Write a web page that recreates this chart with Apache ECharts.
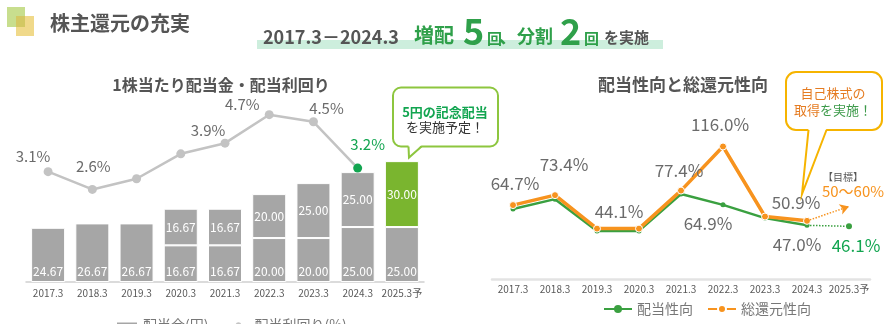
<!DOCTYPE html>
<html><head><meta charset="utf-8">
<script src="https://cdn.jsdelivr.net/npm/echarts@6/dist/echarts.min.js"></script>
<style>html,body{margin:0;padding:0;background:#fff}#c{width:890px;height:324px}</style>
</head><body><div id="c"></div>
<script>
// ---- data ----
const years = ['2017.3','2018.3','2019.3','2020.3','2021.3','2022.3','2023.3','2024.3','2025.3予'];
const divLower = [24.67,26.67,26.67,16.67,16.67,20.00,20.00,25.00,25.00];
const divUpper = [null,null,null,16.67,16.67,20.00,25.00,25.00,30.00];
const yieldPct = [3.1,2.6,2.9,3.6,3.9,4.7,4.5,3.2,null];
const yieldLabeled = [true,true,false,false,true,true,true,true,false];
const payoutRatio = [61.2,69.9,42.1,42.1,74.4,64.9,53.3,47.0,null];
const payoutForecast = [null,null,null,null,null,null,null,47.0,46.1];
const totalReturn = [64.7,73.4,44.1,44.1,77.4,116.0,54.7,50.9,null];
const totalTargetArrowEnd = 63.5;

// ---- styling ----
const FONT = '"Noto Sans CJK JP","Noto Sans",sans-serif';
const TXT = '#595959';
const ORANGE = '#f7931e';
const GREEN = '#3aa040';
const BRIGHT_GREEN = '#12a550';
const BAR_GRAY = '#a6a6a6';
const BAR_GREEN = '#7ab52f';

const yieldLabelOffsets = [[-15,2],[1,-6],null,null,[-17,4],[-27,7],[13,3],[10,-7],null];
const totalLabelOffsets = [[2,-4],[9,-13],[22,0],null,[-2,-3],[-3,-4],null,[-11,-1],null];
const payoutLabelOffsets = [null,null,null,null,null,[-15,3],null,[-10,3],null];

const pct = v => v.toFixed(1) + '%';

const yieldData = yieldPct.map((v,i) => {
  if (v == null) return null;
  const isLast = i === 7;
  const d = {value: v};
  if (isLast) d.itemStyle = {color: BRIGHT_GREEN};
  d.label = yieldLabeled[i] ? {show:true, position:'top', offset: yieldLabelOffsets[i],
    color: isLast ? BRIGHT_GREEN : '#6b6b6b', fontSize: 15, formatter: p => pct(p.value)} : {show:false};
  return d;
});
const totalData = totalReturn.map((v,i) => {
  if (v == null) return null;
  const off = totalLabelOffsets[i];
  return {value: v, label: off ? {show:true, position:'top', offset: off} : {show:false}};
});
const payoutData = payoutRatio.map((v,i) => {
  if (v == null) return null;
  const off = payoutLabelOffsets[i];
  return {value: v, label: off ? {show:true, position:'bottom', offset: off} : {show:false}};
});
const forecastData = payoutForecast.map((v,i) => {
  if (v == null) return null;
  if (i === 8) return {value: v, symbol:'circle', symbolSize:6,
    label:{show:true, position:'bottom', offset:[7,3], color: BRIGHT_GREEN, formatter: p => pct(p.value)}};
  return {value: v, symbol:'none'};
});
const upperData = divUpper.map((v,i) => v == null ? null : (i === 8 ? {value:v, itemStyle:{color:BAR_GREEN}} : v));

const chart = echarts.init(document.getElementById('c'), null, {renderer:'canvas'});

function callout(x, y, w, h, r, base1, tip, base2, color) {
  return [
    {type:'rect', shape:{x, y, width:w, height:h, r}, style:{fill:'#fff', stroke:color, lineWidth:2}, z:10},
    {type:'polygon', shape:{points:[[base1[0],base1[1]-1.5],tip,[base2[0],base2[1]-1.5]]}, style:{fill:'#fff'}, z:11},
    {type:'polyline', shape:{points:[base1, tip, base2]}, style:{stroke:color, lineWidth:2, fill:null}, z:12}
  ];
}
function txt(x, y, text, size, color, weight, align) {
  return {type:'text', x, y, z:20, style:{text, fontSize:size, fontFamily:FONT, fontWeight:weight||'normal',
    fill:color, textAlign:align||'left', align:align||'left', textVerticalAlign:'middle', verticalAlign:'middle'}};
}

const graphics = [
  {type:'rect', shape:{x:7,y:7,width:18,height:20}, style:{fill:'#c8de8e'}, z:1},
  {type:'rect', shape:{x:16,y:16,width:18,height:20}, style:{fill:'#f0d98a'}, z:1},
  {type:'rect', shape:{x:16,y:16,width:9,height:11}, style:{fill:'#d3c862'}, z:2},
  txt(50, 23, '株主還元の充実', 20, '#555', 'bold'),
  {type:'rect', shape:{x:257,y:40,width:406,height:9}, style:{fill:'#cdeedd'}, z:1},
  txt(263, 37, '2017.3－2024.3', 18, '#555', 'bold'),
  txt(414, 35, '増配', 20, '#2fa04a', 'bold'),
  txt(463, 31, '5', 36, '#2fa04a', 'bold'),
  txt(487, 38, '回', 15, '#2fa04a', 'bold'),
  txt(499, 36, '、分割', 18, '#2fa04a', 'bold'),
  txt(560, 31, '2', 36, '#2fa04a', 'bold'),
  txt(584, 38, '回', 15, '#2fa04a', 'bold'),
  txt(604, 37, 'を実施', 15, '#555', 'bold'),
  txt(221, 85, '1株当たり配当金・配当利回り', 16, '#555', 'bold', 'center'),
  txt(683, 85, '配当性向と総還元性向', 17, '#555', 'bold', 'center'),
  ...callout(393, 87.5, 105, 59, 8, [408.5,146.5], [409,157.5], [421.5,146.5], '#8dc63f'),
  txt(445, 112, '5円の記念配当', 13, BRIGHT_GREEN, 'bold', 'center'),
  txt(445, 127, 'を実施予定！', 13, '#333', 'normal', 'center'),
  ...callout(786, 72, 96, 58, 10, [808.5,130], [802,194], [826.5,130], '#f6b400'),
  txt(833, 93, '自己株式の', 13, '#e57c22', 'normal', 'center'),
  txt(794, 110, '取得', 13, '#e57c22', 'normal', 'left'),
  txt(820, 110, 'を実施！', 13, '#3d9a4a', 'normal', 'left'),
  txt(843, 177, '【目標】', 10, '#555', 'normal', 'center'),
  txt(853, 191, '50～60%', 15, ORANGE, 'normal', 'center')
];

const option = {
  animation:false,
  textStyle:{fontFamily:FONT},
  grid:[
    {left:26, right:466, top:104, bottom:42},
    {left:492, right:20, top:130.5, bottom:45}
  ],
  legend:[
    {left:110, top:313, itemGap:18, itemWidth:22, itemHeight:7, textStyle:{color:'#777', fontSize:14},
      data:[{name:'配当金(円)', icon:'rect'}, {name:'配当利回り(%)'}]},
    {left:598, top:297, itemGap:14, itemWidth:28, itemHeight:10, textStyle:{color:'#777', fontSize:14},
      data:['配当性向','総還元性向']}
  ],
  xAxis:[
    {gridIndex:0, type:'category', data:years, axisTick:{show:false},
      axisLine:{lineStyle:{color:'#d0d0d0', width:1.5}}, axisLabel:{color:TXT, fontSize:10, margin:6, interval:0}},
    {gridIndex:1, type:'category', data:years, axisTick:{show:false},
      axisLine:{lineStyle:{color:'#e3e3e3', width:2.5}}, axisLabel:{color:TXT, fontSize:10, margin:5, interval:0}}
  ],
  yAxis:[
    {gridIndex:0, type:'value', min:0, max:81, show:false},
    {gridIndex:0, type:'value', min:0, max:5, show:false},
    {gridIndex:1, type:'value', min:0, max:130, show:false}
  ],
  graphic: graphics,
  series:[
    {name:'配当金(円)', type:'bar', stack:'div', xAxisIndex:0, yAxisIndex:0, data:divLower, barWidth:34,
      itemStyle:{color:BAR_GRAY, borderColor:'#fff', borderWidth:1},
      label:{show:true, position:'insideBottom', distance:5, color:'#fff', fontSize:12, formatter:p=>Number(p.value).toFixed(2)}},
    {name:'配当金(円)', type:'bar', stack:'div', xAxisIndex:0, yAxisIndex:0, data:upperData, barWidth:34,
      itemStyle:{color:BAR_GRAY, borderColor:'#fff', borderWidth:1},
      label:{show:true, position:'inside', color:'#fff', fontSize:12, formatter:p=>Number(p.value).toFixed(2)}},
    {name:'配当利回り(%)', type:'line', xAxisIndex:0, yAxisIndex:1, data:yieldData, symbol:'circle', symbolSize:9,
      lineStyle:{color:'#c3c3c3', width:2.5}, itemStyle:{color:'#c3c3c3'}, z:5},
    {name:'配当性向', type:'line', xAxisIndex:1, yAxisIndex:2, data:payoutData, symbol:'circle', symbolSize:5,
      lineStyle:{color:GREEN, width:2.5}, itemStyle:{color:GREEN},
      label:{color:'#6b6b6b', fontSize:17, formatter:p=>pct(p.value)}, z:3},
    {name:'配当性向予', type:'line', xAxisIndex:1, yAxisIndex:2, data:forecastData, symbol:'none',
      lineStyle:{color:GREEN, width:1.5, type:'dotted'}, itemStyle:{color:GREEN},
      label:{color:BRIGHT_GREEN, fontSize:17}, z:3},
    {name:'総還元性向', type:'line', xAxisIndex:1, yAxisIndex:2, data:totalData, symbol:'circle', symbolSize:7,
      lineStyle:{color:ORANGE, width:3.5}, itemStyle:{color:ORANGE, borderColor:'#fff', borderWidth:1},
      label:{color:'#6b6b6b', fontSize:17, formatter:p=>pct(p.value)}, z:4,
      markLine:{silent:true, symbol:['none','arrow'], symbolSize:[8,9], label:{show:false},
        lineStyle:{type:'dotted', color:ORANGE, width:1.5},
        data:[[{coord:['2024.3', totalReturn[7]]}, {coord:['2025.3予', totalTargetArrowEnd]}]]}}
  ]
};
chart.setOption(option);
</script></body></html>
